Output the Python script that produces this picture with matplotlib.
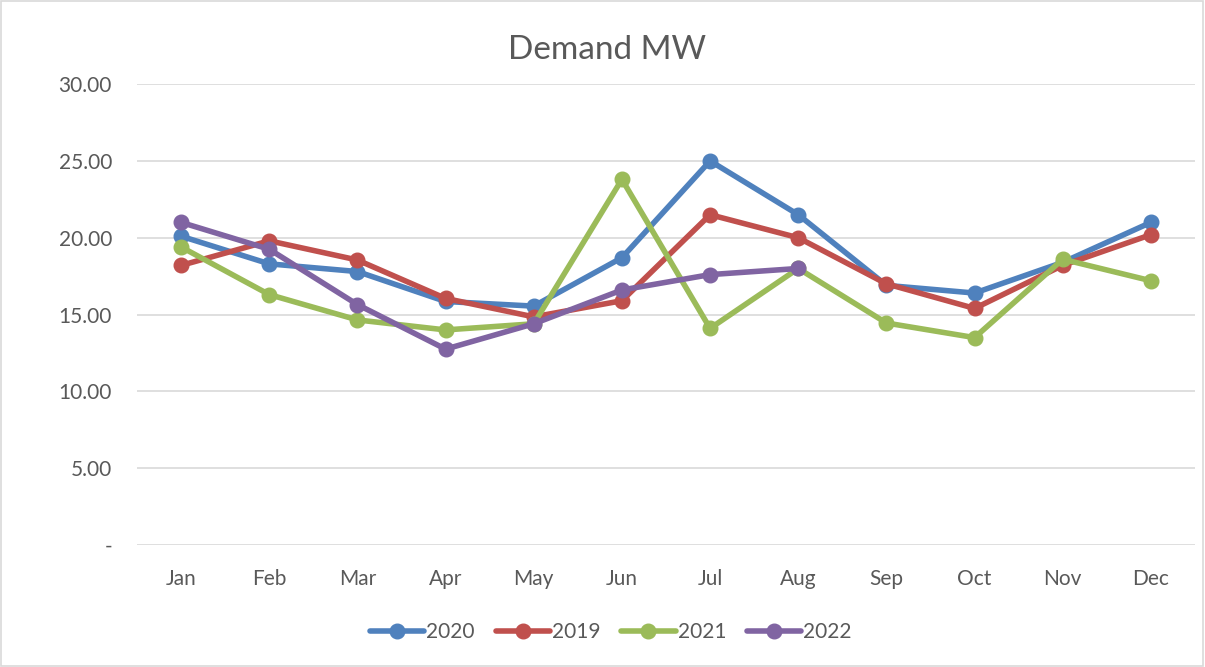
import matplotlib
matplotlib.use("Agg")
import matplotlib.pyplot as plt
from matplotlib.ticker import FuncFormatter
from matplotlib.patches import Rectangle

plt.rcParams['font.family'] = ['Lato', 'DejaVu Sans']

months = ["Jan", "Feb", "Mar", "Apr", "May", "Jun", "Jul", "Aug", "Sep", "Oct", "Nov", "Dec"]
y2020 = [20.1, 18.3, 17.8, 15.85, 15.55, 18.7, 25.0, 21.5, 16.9, 16.4, 18.4, 21.0]
y2019 = [18.2, 19.8, 18.55, 16.05, 14.85, 15.9, 21.5, 20.0, 17.0, 15.4, 18.2, 20.2]
y2021 = [19.4, 16.3, 14.65, 14.0, 14.4, 23.8, 14.1, 18.0, 14.45, 13.5, 18.6, 17.2]
y2022 = [21.0, 19.25, 15.65, 12.75, 14.4, 16.6, 17.6, 18.0]

series = [("2020", y2020, "#4F81BD"),
          ("2019", y2019, "#C0504D"),
          ("2021", y2021, "#9BBB59"),
          ("2022", y2022, "#8064A2")]

fig = plt.figure(figsize=(12.05, 6.67), dpi=100)
ax = fig.add_axes([0.1137, 0.1829, 0.878, 0.691])

for name, vals, col in series:
    ax.plot(range(len(vals)), vals, color=col, lw=4, marker='o', markersize=10.5,
            solid_capstyle='round', label=name)

ax.set_xlim(-0.5, 11.5)
ax.set_ylim(0, 30)
ax.set_yticks([0, 5, 10, 15, 20, 25, 30])
ax.yaxis.set_major_formatter(FuncFormatter(lambda v, p: "-" if v == 0 else f"{v:.2f}"))
ax.set_xticks(range(12))
ax.set_xticklabels(months)
ax.grid(axis='y', color='#D9D9D9', lw=1.2)
ax.set_axisbelow(True)
for s in ax.spines.values():
    s.set_visible(False)
ax.tick_params(length=0, labelsize=15, colors='#595959', pad=17)
ax.tick_params(axis='y', pad=18)

fig.text(0.504, 0.925, "Demand MW", ha='center', va='center', fontsize=24, color='#595959')

leg = fig.legend(loc='center', bbox_to_anchor=(0.507, 0.052), ncol=4, frameon=False,
                 fontsize=15, handlelength=2.6, columnspacing=1.0, handletextpad=0.1)
for t in leg.get_texts():
    t.set_color('#595959')

fig.patches.append(Rectangle((0.001, 0.001), 0.997, 0.997, transform=fig.transFigure,
                             fill=False, edgecolor='#D9D9D9', lw=1.2))

fig.savefig("out.png", dpi=100)
